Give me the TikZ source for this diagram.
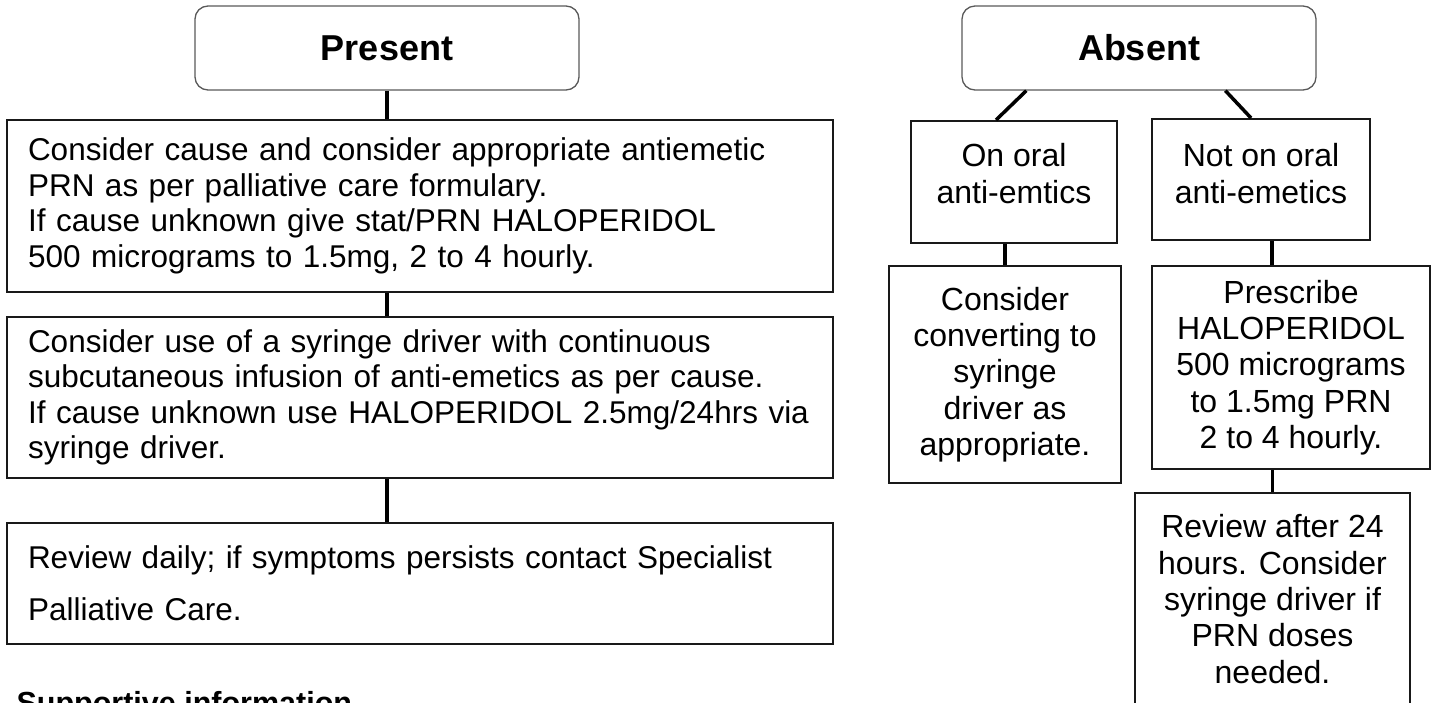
\documentclass[tikz,border=0pt]{standalone}
\usepackage{fontspec}
\setmainfont{Liberation Sans}
\usetikzlibrary{calc}

\begin{document}
\begin{tikzpicture}[x=1pt, y=-1pt,
    head/.style={draw=black!65, line width=1.3pt, rounded corners=13pt, minimum width=#1, minimum height=84pt, inner sep=0pt, font=\fontsize{36}{40}\selectfont\bfseries},
    leftbox/.style={draw=black!90, line width=2pt, font=\fontsize{31.5}{35.5}\selectfont, align=left, text width=784pt, inner xsep=21pt, inner ysep=0pt, minimum height=#1},
    sidebox/.style={draw=black!90, line width=2pt, font=\fontsize{32}{36.3}\selectfont, align=center, inner sep=0pt, minimum width=#1},
    link/.style={line width=3.5pt, line cap=butt}]
    \useasboundingbox (0,0) rectangle (1437,702);

    % Present branch
    \node[head=384pt] (present) at (387, 48) {Present};
    \node[leftbox=172pt] (box1) at (420, 206) {Consider cause and consider appropriate antiemetic\\
        PRN as per palliative care formulary.\\
        If cause unknown give stat/PRN HALOPERIDOL\\
        500 micrograms to 1.5mg, 2 to 4 hourly.};
    \node[leftbox=161pt] (box2) at (420, 397.5) {Consider use of a syringe driver with continuous\\
        subcutaneous infusion of anti-emetics as per cause.\\
        If cause unknown use HALOPERIDOL 2.5mg/24hrs via\\
        syringe driver.};
    \node[leftbox=121pt, font=\fontsize{31.5}{52}\selectfont] (box3) at (420, 583.5) {Review daily; if symptoms persists contact Specialist\\
        Palliative Care.};
    \node[anchor=base west, font=\fontsize{30.5}{35}\selectfont\bfseries] (support) at (13, 713) {Supportive information};

    \draw[link] (present.south) -- (present.south |- box1.north);
    \draw[link] (box1.south -| present.south) -- (box2.north -| present.south);
    \draw[link] (box2.south -| present.south) -- (box3.north -| present.south);

    % Absent branch
    \node[head=354pt] (absent) at (1139, 48) {Absent};
    \node[sidebox=206pt, minimum height=122pt] (onoral) at (1014, 182) {On oral\\ anti-emtics\\[-19pt]};
    \node[sidebox=218pt, minimum height=121pt] (noton) at (1261, 179.5) {Not on oral\\ anti-emetics\\[-24pt]};
    \node[sidebox=232pt, minimum height=217pt] (consider) at (1005, 374.5) {Consider\\ converting to\\ syringe\\ driver as\\ appropriate.};
    \node[sidebox=278pt, minimum height=203pt] (prescribe) at (1291, 367.5) {Prescribe\\ HALOPERIDOL\\ 500 micrograms\\ to 1.5mg PRN\\ 2 to 4 hourly.};
    \node[sidebox=275pt, minimum height=212pt] (review) at (1272.5, 599) {Review after 24\\ hours. Consider\\ syringe driver if\\ PRN doses\\ needed.};

    \draw[link] ($(absent.south west)+(65,0)$) -- ($(onoral.north west)+(86,0)$);
    \draw[link] ($(absent.south west)+(264,0)$) -- ($(noton.north west)+(100,0)$);
    \draw[link] (onoral.south -| consider.north) -- (consider.north);
    \coordinate (np) at ($(noton.south west)+(121,0)$);
    \draw[link] (np) -- (np |- prescribe.north);
    \draw[link] (prescribe.south -| review.north) -- (review.north);
\end{tikzpicture}
\end{document}
